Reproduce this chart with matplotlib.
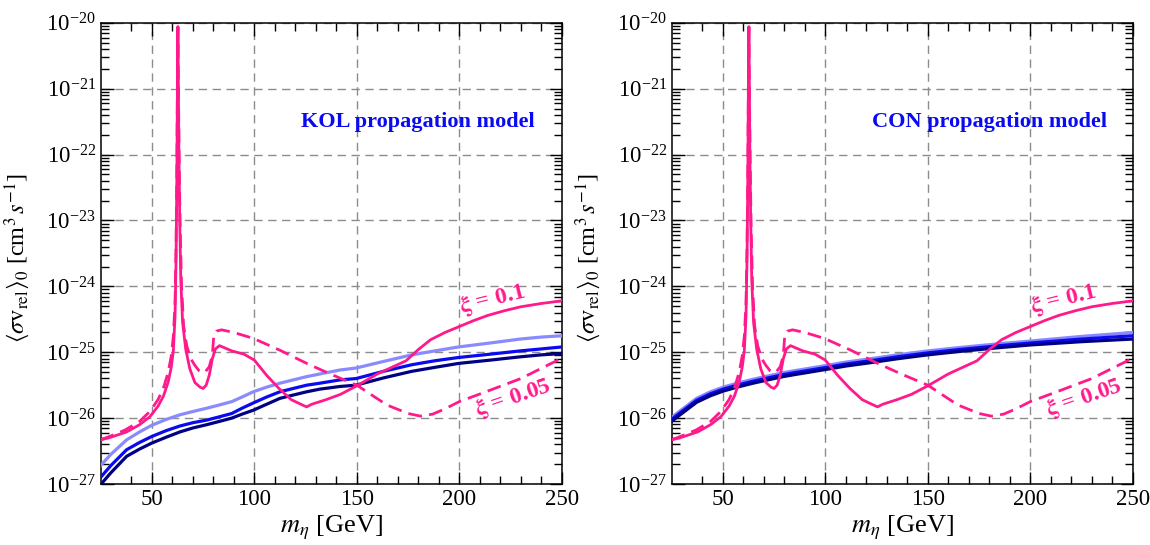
import numpy as np
import matplotlib
matplotlib.use("Agg")
import matplotlib.pyplot as plt
from matplotlib.ticker import FixedLocator, LogLocator, LogFormatterMathtext, NullFormatter

plt.rcParams['font.family'] = ['Liberation Serif', 'DejaVu Serif']
plt.rcParams['mathtext.fontset'] = 'stix'

# --- data (log10 of <sigma v>) ---
# pink curves (same in both panels)
m_xi01 = [25, 30, 37.7, 44, 49, 53, 55.6, 58, 59.5, 60.5, 61.3, 61.8, 62.2, 62.5, 62.7,
          62.9, 63.2, 63.6, 64.1, 65, 66.5, 68.5, 71, 73.5, 75, 76.5, 78, 79.5, 81, 83,
          86, 89, 95, 100, 106, 112, 118, 122, 125.5, 128, 135, 142, 150, 160, 167, 174,
          180, 186, 193, 200, 207, 214, 222, 230, 240, 250]
log_xi01 = [-26.33, -26.29, -26.21, -26.10, -25.98, -25.82, -25.67, -25.45, -25.22, -24.97,
            -24.46, -23.6, -22.3, -20.8, -20.06, -20.8, -22.0, -23.0, -23.9, -24.55, -24.95,
            -25.25, -25.46, -25.53, -25.55, -25.50, -25.35, -25.10, -24.95, -24.90, -24.94,
            -24.98, -25.03, -25.12, -25.35, -25.55, -25.72, -25.78, -25.83, -25.79, -25.72,
            -25.64, -25.51, -25.33, -25.23, -25.13, -24.96, -24.81, -24.70, -24.61, -24.52,
            -24.44, -24.37, -24.31, -24.26, -24.22]

m_xi005 = [25, 30, 37, 44, 49, 53, 55.6, 58, 59.5, 60.5, 61.3, 61.8, 62.2, 62.5, 62.7,
           62.9, 63.3, 63.8, 64.5, 65.5, 67, 69, 71, 73, 74.5, 76, 78, 79.5, 80.2, 81.5,
           84, 90, 99.5, 112.5, 125.6, 137, 150, 164.6, 175, 181, 187, 193, 200, 213,
           230, 250]
log_xi005 = [-26.33, -26.27, -26.18, -26.05, -25.90, -25.72, -25.55, -25.30, -25.05, -24.75,
             -24.25, -23.4, -22.2, -20.8, -20.06, -20.8, -22.0, -23.1, -24.0, -24.6, -24.9,
             -25.1, -25.2, -25.28, -25.31, -25.30, -25.22, -25.05, -24.75, -24.68, -24.66,
             -24.70, -24.79, -24.97, -25.17, -25.33, -25.50, -25.80, -25.93, -25.97, -25.94,
             -25.86, -25.75, -25.60, -25.40, -25.09]

# KOL limits
m_kol = [25, 30, 37.7, 44, 49.9, 57, 63.7, 70, 76.8, 83, 89, 94, 99.5, 106, 112.5, 119,
         125.6, 132, 141.8, 149.6, 163, 176.8, 188, 199.6, 215, 229.7, 240, 250]
log_kol_light = [-26.72, -26.55, -26.33, -26.21, -26.11, -26.02, -25.95, -25.90, -25.85,
                 -25.80, -25.75, -25.68, -25.60, -25.53, -25.47, -25.42, -25.37, -25.33,
                 -25.27, -25.24, -25.14, -25.04, -24.98, -24.92, -24.86, -24.80, -24.77, -24.75]
log_kol_blue = [-26.90, -26.72, -26.48, -26.37, -26.28, -26.19, -26.12, -26.07, -26.03,
                -25.98, -25.93, -25.85, -25.77, -25.68, -25.60, -25.55, -25.50, -25.47,
                -25.42, -25.40, -25.29, -25.19, -25.13, -25.08, -25.03, -24.98, -24.95, -24.92]
log_kol_dark = [-27.01, -26.83, -26.58, -26.47, -26.38, -26.29, -26.21, -26.15, -26.10,
                -26.05, -26.00, -25.94, -25.88, -25.79, -25.70, -25.65, -25.60, -25.56,
                -25.52, -25.50, -25.39, -25.29, -25.23, -25.17, -25.12, -25.07, -25.04, -25.02]

# CON limits
m_con = [25, 30, 37.2, 44, 50.2, 57, 64.8, 72, 79.5, 85, 90.9, 100.6, 110, 121.8, 135,
         150, 165, 185, 200, 225, 250]
log_con_light = [-25.99, -25.87, -25.70, -25.60, -25.53, -25.47, -25.41, -25.36, -25.31,
                 -25.28, -25.25, -25.20, -25.15, -25.10, -25.04, -24.98, -24.93, -24.87,
                 -24.83, -24.76, -24.70]
log_con_blue = [-26.02, -25.90, -25.73, -25.63, -25.56, -25.50, -25.44, -25.39, -25.34,
                -25.31, -25.28, -25.23, -25.18, -25.13, -25.07, -25.01, -24.96, -24.90,
                -24.86, -24.80, -24.75]
log_con_dark = [-26.05, -25.93, -25.76, -25.66, -25.59, -25.53, -25.47, -25.42, -25.37,
                -25.34, -25.31, -25.26, -25.21, -25.16, -25.10, -25.04, -24.99, -24.93,
                -24.89, -24.84, -24.80]

panel_titles = ['KOL propagation model', 'CON propagation model']

pink = '#ff1a8c'
c_light = '#8a8aff'
c_blue = '#0a0af0'
c_dark = '#000085'


def dibujar_panel(ax, title, m_lim, light, blue, dark):
    ax.plot(m_lim, 10**np.array(light), color=c_light, lw=2.3, zorder=3)
    ax.plot(m_lim, 10**np.array(blue), color=c_blue, lw=2.3, zorder=4)
    ax.plot(m_lim, 10**np.array(dark), color=c_dark, lw=2.3, zorder=5)
    ax.plot(m_xi01, 10**np.array(log_xi01), color=pink, lw=2.0, zorder=6)
    ax.plot(m_xi005, 10**np.array(log_xi005), color=pink, lw=2.0,
            linestyle=(0, (5, 2.6)), zorder=6)

    ax.set_yscale('log')
    ax.set_xlim(25, 250)
    ax.set_ylim(1e-27, 1e-20)

    ax.xaxis.set_major_locator(FixedLocator([50, 100, 150, 200, 250]))
    ax.xaxis.set_minor_locator(FixedLocator([40, 60, 70, 80, 90, 110, 120, 130, 140, 160,
                                             170, 180, 190, 210, 220, 230, 240]))
    ax.yaxis.set_major_locator(FixedLocator([1e-27, 1e-26, 1e-25, 1e-24, 1e-23, 1e-22,
                                             1e-21, 1e-20]))
    ax.yaxis.set_minor_locator(LogLocator(base=10, subs=np.arange(2, 10), numticks=20))
    ax.yaxis.set_major_formatter(LogFormatterMathtext())
    ax.yaxis.set_minor_formatter(NullFormatter())

    ax.tick_params(which='both', direction='in', top=True, right=True, labelsize=16.5,
                   colors='black')
    ax.tick_params(which='major', length=9, width=1)
    ax.tick_params(which='minor', length=6, width=1)
    ax.grid(True, which='major', color='#8c8c8c', linestyle=(0, (6, 4)), lw=1)
    for s in ax.spines.values():
        s.set_linewidth(1.1)

    ax.set_xlabel(r'$m_\eta$ [GeV]', fontsize=19)
    ax.set_ylabel(r'$\langle\sigma \mathrm{v}_{\rm rel}\rangle_0$ [cm$^3\,s^{-1}$]', fontsize=17.5)
    ax.yaxis.set_label_coords(-0.148, 0.49)
    ax.xaxis.set_label_coords(0.5, -0.065)

    ax.text(180, 10**-21.5, title, color='#0a0af0', fontsize=16, fontweight='bold',
            ha='center', va='center', zorder=7)
    ax.text(216, 10**-24.2, r'$\mathbf{\xi}$ = 0.1', color=pink, fontsize=17,
            fontweight='bold', ha='center', va='center', rotation=14, zorder=7)
    ax.text(226, 10**-25.7, r'$\mathbf{\xi}$ = 0.05', color=pink, fontsize=17,
            fontweight='bold', ha='center', va='center', rotation=19, zorder=7)


fig = plt.figure(figsize=(11.5, 5.45), dpi=100)
ax1 = fig.add_axes([0.0875, 0.112, 0.401, 0.846])
ax2 = fig.add_axes([0.584, 0.112, 0.401, 0.846])

dibujar_panel(ax1, panel_titles[0], m_kol, log_kol_light, log_kol_blue, log_kol_dark)
dibujar_panel(ax2, panel_titles[1], m_con, log_con_light, log_con_blue, log_con_dark)

fig.savefig('out.png', dpi=100)
